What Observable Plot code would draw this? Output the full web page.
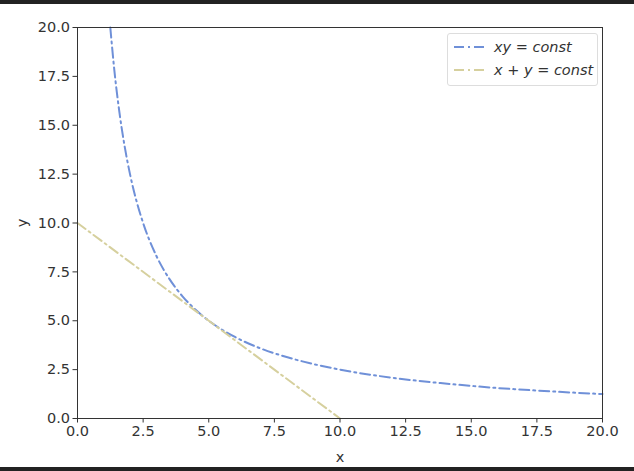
<!DOCTYPE html>
<html><head><meta charset="utf-8">
<script src="https://cdn.jsdelivr.net/npm/d3@7"></script>
<script src="https://cdn.jsdelivr.net/npm/@observablehq/plot@0.6"></script>
<style>
body{margin:0;background:#fff;font-family:"DejaVu Sans",sans-serif;}
#wrap{position:relative;width:634px;height:471px;overflow:hidden;background:#fff;}
.bar{position:absolute;left:0;width:634px;background:#222;}
#legend{position:absolute;left:447px;top:33px;width:149px;height:51px;border:1px solid #ddd;border-radius:3px;background:rgba(255,255,255,0.85);font-size:14.5px;color:#333;}
.row{position:absolute;left:6px;height:20px;display:flex;align-items:center;}
.row i{margin-left:10px;font-style:italic;white-space:nowrap;}
</style></head><body>
<div id="wrap"></div>
<script>
// x·y = const curve
const hypX = [1.25, 1.4, 1.6, 1.8, 2.0, 2.25, 2.5, 3.0, 3.5, 4.0, 4.5, 5.0, 6.0, 7.0, 8.0, 9.0, 10.0, 12.0, 14.0, 16.0, 18.0, 20.0];
const hypY = [20.0, 17.86, 15.63, 13.89, 12.5, 11.11, 10.0, 8.33, 7.14, 6.25, 5.56, 5.0, 4.17, 3.57, 3.13, 2.78, 2.5, 2.08, 1.79, 1.56, 1.39, 1.25];
// x + y = const line
const linX = [0, 10];
const linY = [10, 0];
const xTicks = [0, 2.5, 5, 7.5, 10, 12.5, 15, 17.5, 20];
const yTicks = [0, 2.5, 5, 7.5, 10, 12.5, 15, 17.5, 20];
const blue = "#6f90d8";
const khaki = "#d6d09e";
const dash = "10,4,2,4";

const hyp = hypX.map((x, i) => ({x, y: hypY[i]}));
const lin = linX.map((x, i) => ({x, y: linY[i]}));

const chart = Plot.plot({
  width: 634, height: 471,
  marginTop: 27, marginLeft: 77, marginRight: 32, marginBottom: 53,
  style: {fontFamily: "DejaVu Sans, sans-serif", fontSize: "14.5px", color: "#333", background: "transparent"},
  x: {domain: [0, 20]},
  y: {domain: [0, 20]},
  marks: [
    Plot.line(hyp, {x: "x", y: "y", stroke: blue, strokeWidth: 2, strokeDasharray: dash, curve: "monotone-x"}),
    Plot.line(lin, {x: "x", y: "y", stroke: khaki, strokeWidth: 2, strokeDasharray: dash}),
    Plot.frame({stroke: "#333", strokeWidth: 1}),
    Plot.axisX({ticks: xTicks, tickFormat: d => d.toFixed(1), tickSize: 4.5, tickPadding: 3, label: "x", labelAnchor: "center", labelArrow: "none", labelOffset: 43, stroke: "#333"}),
    Plot.axisY({ticks: yTicks, tickFormat: d => d.toFixed(1), tickSize: 4.5, tickPadding: 3, label: "y", labelAnchor: "center", labelArrow: "none", labelOffset: 61, stroke: "#333"})
  ]
});
const wrap = document.getElementById("wrap");
wrap.appendChild(chart);
chart.style.position = "absolute"; chart.style.left = "0"; chart.style.top = "0";

const topBar = document.createElement("div"); topBar.className = "bar"; topBar.style.top = "0"; topBar.style.height = "4px"; wrap.appendChild(topBar);
const botBar = document.createElement("div"); botBar.className = "bar"; botBar.style.top = "467px"; botBar.style.height = "4px"; wrap.appendChild(botBar);

const legend = document.createElement("div"); legend.id = "legend";
const items = [["xy = const", blue], ["x + y = const", khaki]];
items.forEach(([t, c], i) => {
  const r = document.createElement("div"); r.className = "row"; r.style.top = (3 + i * 23) + "px";
  r.innerHTML = `<svg width="30" height="6"><line x1="0" y1="3" x2="30" y2="3" stroke="${c}" stroke-width="2" stroke-dasharray="${dash}"/></svg><i>${t}</i>`;
  legend.appendChild(r);
});
wrap.appendChild(legend);
</script>
</body></html>
